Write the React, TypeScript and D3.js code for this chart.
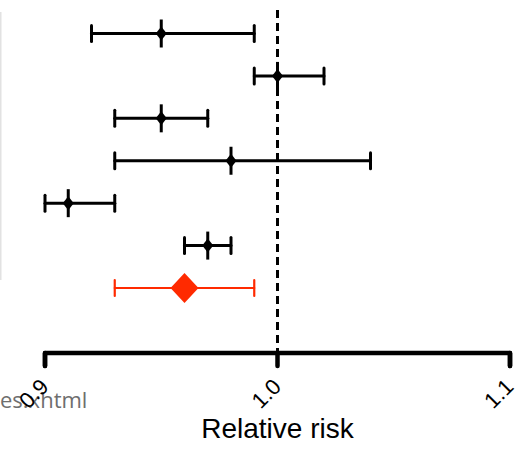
import React from "react";
import * as d3 from "d3";

const studies = ["Study A", "Study B", "Study C", "Study D", "Study E", "Study F"];
const estimates = [0.95, 1.0, 0.95, 0.98, 0.91, 0.97];
const lowers = [0.92, 0.99, 0.93, 0.93, 0.9, 0.96];
const uppers = [0.99, 1.02, 0.97, 1.04, 0.93, 0.98];
const pooledLabel = "Pooled";
const pooledEstimate = [0.96];
const pooledLower = [0.93];
const pooledUpper = [0.99];
const tickValues = [0.9, 1.0, 1.1];
const tickLabels = ["0.9", "1.0", "1.1"];
const xTitle = "Relative risk";
const strayText = "es.xhtml";

export default function App() {
  const W = 531, H = 450;
  const x = d3.scaleLinear().domain([0.9, 1.1]).range([45, 510]);
  const rows = [...studies, pooledLabel];
  const y = d3.scalePoint<string>().domain(rows).range([33.5, 288]);
  const axisY = 353;
  const font = "'Liberation Sans', Arial, sans-serif";
  const diamond = (cx: number, cy: number, rx: number, ry: number) =>
    `M${cx},${cy - ry}L${cx + rx},${cy}L${cx},${cy + ry}L${cx - rx},${cy}Z`;
  const red = "#ff2a00";
  return (
    <svg width={W} height={H} style={{ position: "absolute", left: 0, top: 0, background: "#fff" }}>
      <line x1={0.75} x2={0.75} y1={12} y2={280} stroke="#e2e2e2" strokeWidth={1.5} />
      <line x1={x(1)} x2={x(1)} y1={10} y2={axisY} stroke="#000" strokeWidth={3} strokeDasharray="8,5" />
      {studies.map((s, i) => {
        const cy = y(s)!;
        return (
          <g key={s} stroke="#000" strokeLinecap="round">
            <line x1={x(lowers[i])} x2={x(uppers[i])} y1={cy} y2={cy} strokeWidth={3} />
            <line x1={x(lowers[i])} x2={x(lowers[i])} y1={cy - 8} y2={cy + 8} strokeWidth={3} />
            <line x1={x(uppers[i])} x2={x(uppers[i])} y1={cy - 8} y2={cy + 8} strokeWidth={3} />
            <line x1={x(estimates[i])} x2={x(estimates[i])} y1={cy - 14} y2={cy + 14} strokeWidth={3} strokeLinecap="butt" />
            <path d={diamond(x(estimates[i]), cy, 5.5, 7)} fill="#000" stroke="none" />
          </g>
        );
      })}
      {pooledEstimate.map((e, i) => {
        const cy = y(pooledLabel)!;
        return (
          <g key="pooled" stroke={red} strokeLinecap="round">
            <line x1={x(pooledLower[i])} x2={x(pooledUpper[i])} y1={cy} y2={cy} strokeWidth={2.2} />
            <line x1={x(pooledLower[i])} x2={x(pooledLower[i])} y1={cy - 8} y2={cy + 8} strokeWidth={2.2} />
            <line x1={x(pooledUpper[i])} x2={x(pooledUpper[i])} y1={cy - 8} y2={cy + 8} strokeWidth={2.2} />
            <path d={diamond(x(e), cy, 14, 15)} fill={red} stroke="none" />
          </g>
        );
      })}
      <g stroke="#000" strokeWidth={4.5} strokeLinecap="round" fill="none">
        <path d={`M${x(0.9)},${axisY + 13}V${axisY}H${x(1.1)}V${axisY + 13}`} strokeLinejoin="round" />
        {tickValues.map((t) => (
          <line key={t} x1={x(t)} x2={x(t)} y1={axisY} y2={axisY + 13} />
        ))}
      </g>
      <text x={0} y={408} textAnchor="start" fontFamily="'Open Sans', sans-serif" fontSize={22} fill="#6e6e6e">
        {strayText}
      </text>
      {tickValues.map((t, i) => (
        <text
          key={t}
          transform={`translate(${x(t) + 5},${axisY + 35}) rotate(-45)`}
          textAnchor="end"
          fontFamily={font}
          fontSize={22}
          fill="#000"
        >
          {tickLabels[i]}
        </text>
      ))}
      <text x={x(1)} y={438} textAnchor="middle" fontFamily={font} fontSize={28} fill="#000">
        {xTitle}
      </text>
    </svg>
  );
}
